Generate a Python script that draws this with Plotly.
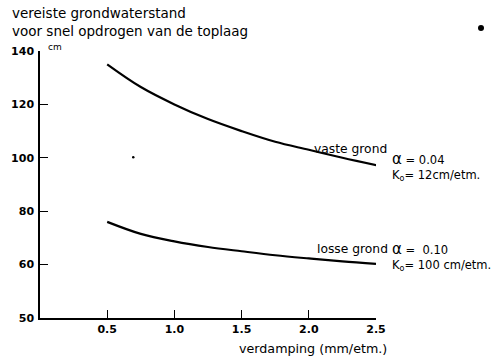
import plotly.graph_objects as go

# Data
x_vaste = [0.5, 0.75, 1.0, 1.25, 1.5, 1.75, 2.0, 2.25, 2.52]
y_vaste = [135.0, 126.5, 120.0, 114.5, 110.0, 106.0, 103.0, 100.0, 97.0]
x_losse = [0.5, 0.75, 1.0, 1.25, 1.5, 1.75, 2.0, 2.25, 2.5]
y_losse = [76.0, 71.5, 68.7, 66.6, 65.0, 63.5, 62.3, 61.2, 60.3]
x_ticks = [0.5, 1.0, 1.5, 2.0, 2.5]
x_ticktext = ["0.5", "1.0", "1.5", "2.0", "2.5"]
y_ticks = [40, 60, 80, 100, 120, 140]
y_ticktext = ["50", "60", "80", "100", "120", "140"]

W, H = 501, 356
PL, PR, PT, PB = 40, 376, 51, 318  # plot area in screen pixels
L, T, R, B = PL, PT, W - PR, H - PB
PW, PH = PR - PL, PB - PT

def px(xs):
    return (xs - PL) / PW

def py(ys):
    return (PB - ys) / PH

FONT = "DejaVu Sans"
fig = go.Figure()
for xs, ys in [(x_vaste, y_vaste), (x_losse, y_losse)]:
    fig.add_trace(go.Scatter(x=xs, y=ys, mode="lines", line=dict(color="black", width=2.2, shape="spline"),
                             showlegend=False, hoverinfo="skip", cliponaxis=False))

ann = []
def txt(text, x, y, xanchor="left", size=12, align="left"):
    ann.append(dict(text=text, x=px(x), y=py(y), xref="paper", yref="paper", xanchor=xanchor,
                    yanchor="middle", showarrow=False, borderpad=0, align=align,
                    font=dict(family=FONT, size=size, color="black")))

ALPHA = "<span style='font-size:15px'>α</span>"
txt("vereiste grondwaterstand", 11, 13, size=13.5)
txt("voor snel opdrogen van de toplaag", 11, 31, size=13.5)
txt("cm", 47, 47, size=9)
txt("verdamping (mm/etm.)", 388, 348, xanchor="right", size=12.7)

txt("vaste grond", 388, 149, xanchor="right", size=12.3)
txt(ALPHA + " = 0.04<br>K<sub>o</sub>= 12cm/etm.", 391, 166, size=11.5)
txt("losse grond", 389, 249, xanchor="right", size=12.3)
txt(ALPHA + " =  0.10<br>K<sub>o</sub>= 100 cm/etm.", 391, 256.5, size=11.5)

shapes = [
    dict(type="circle", xref="paper", yref="paper", x0=px(478), x1=px(484), y0=py(31), y1=py(25),
         fillcolor="black", line=dict(width=0)),
    dict(type="circle", xref="paper", yref="paper", x0=px(132), x1=px(134.5), y0=py(158.5), y1=py(156),
         fillcolor="black", line=dict(width=0)),
]

tickfont = dict(family=FONT, size=11, weight="bold", color="black")
fig.update_layout(
    width=W, height=H, margin=dict(l=L, r=R, t=T, b=B, pad=0),
    paper_bgcolor="white", plot_bgcolor="white",
    annotations=ann, shapes=shapes,
    font=dict(family=FONT, size=12, color="black"),
    xaxis=dict(range=[0, 2.5], tickvals=x_ticks, ticktext=x_ticktext, ticks="inside", ticklen=8,
               tickwidth=1, tickcolor="black", showline=True, linecolor="black", linewidth=1.5,
               showgrid=False, zeroline=False, tickfont=tickfont),
    yaxis=dict(range=[40, 140], tickvals=y_ticks, ticktext=y_ticktext, ticks="inside", ticklen=8,
               tickwidth=1, tickcolor="black", showline=True, linecolor="black", linewidth=1.5,
               showgrid=False, zeroline=False, tickfont=tickfont, ticklabelstandoff=2),
)
fig.write_html("out.html", config={"displayModeBar": False},
               post_script="document.body.style.margin='0';document.body.style.padding='0';"
                           "document.body.style.overflow='hidden';")
